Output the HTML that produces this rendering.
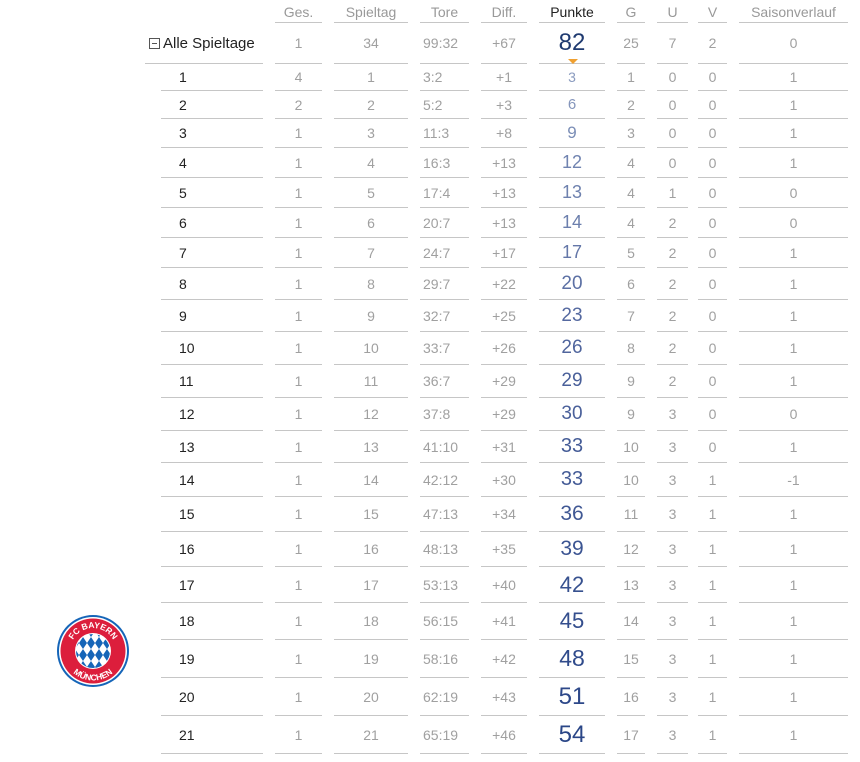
<!DOCTYPE html>
<html><head><meta charset="utf-8"><style>
body{margin:0;width:860px;height:762px;background:#fff;position:relative;overflow:hidden;font-family:"Segoe UI","Liberation Sans","DejaVu Sans",sans-serif;}
.r{position:absolute;left:0;width:860px;}
.r>div{position:absolute;top:0;bottom:0;border-bottom:1px solid #c6c6c6;display:flex;align-items:center;justify-content:center;font-size:14px;color:#a0a0a0;}
.l{left:161px;width:102px;justify-content:flex-start!important;padding-left:18px;box-sizing:border-box;color:#222!important;}
.a{left:275px;width:47px}.b{left:334px;width:74px}.t{left:420px;width:49px;justify-content:flex-start!important;padding-left:3px;box-sizing:border-box}
.d{left:481px;width:46px}.p{left:539px;width:66px;color:#4a66a0!important}.g{left:617px;width:28px}.u{left:657px;width:31px}.v{left:698px;width:29px}.s{left:739px;width:109px}
.h>div{color:#999;font-size:14px;padding-top:2px;box-sizing:border-box}
</style></head><body>
<div class="r h" style="top:0;height:23px"><div class="a">Ges.</div><div class="b">Spieltag</div><div class="t" style="justify-content:center!important;padding-left:0">Tore</div><div class="d">Diff.</div><div class="p" style="color:#222!important">Punkte</div><div class="g">G</div><div class="u">U</div><div class="v">V</div><div class="s">Saisonverlauf</div></div>
<div class="r" style="top:23px;height:41px"><div class="l" style="left:145px;width:118px;padding-left:4px;font-size:15px"><span style="display:inline-block;width:9px;height:9px;border:1px solid #555;position:relative;margin-right:3px"><span style="position:absolute;left:2px;right:2px;top:4px;height:1px;background:#555"></span></span>Alle Spieltage</div><div class="a">1</div><div class="b">34</div><div class="t">99:32</div><div class="d">+67</div><div class="p" style="font-size:24px;color:#1f3a70!important">82<span style="position:absolute;bottom:-1px;left:29px;width:0;height:0;border-left:5px solid transparent;border-right:5px solid transparent;border-top:5px solid #f0a030"></span></div><div class="g">25</div><div class="u">7</div><div class="v">2</div><div class="s">0</div></div>
<div class="r" style="top:64px;height:27px"><div class="l">1</div><div class="a">4</div><div class="b">1</div><div class="t">3:2</div><div class="d">+1</div><div class="p" style="font-size:14px;color:#8a9bbf!important">3</div><div class="g">1</div><div class="u">0</div><div class="v">0</div><div class="s">1</div></div>
<div class="r" style="top:91px;height:28px"><div class="l">2</div><div class="a">2</div><div class="b">2</div><div class="t">5:2</div><div class="d">+3</div><div class="p" style="font-size:15px;color:#8495bb!important">6</div><div class="g">2</div><div class="u">0</div><div class="v">0</div><div class="s">1</div></div>
<div class="r" style="top:119px;height:29px"><div class="l">3</div><div class="a">1</div><div class="b">3</div><div class="t">11:3</div><div class="d">+8</div><div class="p" style="font-size:17px;color:#7a8db6!important">9</div><div class="g">3</div><div class="u">0</div><div class="v">0</div><div class="s">1</div></div>
<div class="r" style="top:148px;height:30px"><div class="l">4</div><div class="a">1</div><div class="b">4</div><div class="t">16:3</div><div class="d">+13</div><div class="p" style="font-size:18px;color:#7083b0!important">12</div><div class="g">4</div><div class="u">0</div><div class="v">0</div><div class="s">1</div></div>
<div class="r" style="top:178px;height:30px"><div class="l">5</div><div class="a">1</div><div class="b">5</div><div class="t">17:4</div><div class="d">+13</div><div class="p" style="font-size:18px;color:#6e81ae!important">13</div><div class="g">4</div><div class="u">1</div><div class="v">0</div><div class="s">0</div></div>
<div class="r" style="top:208px;height:30px"><div class="l">6</div><div class="a">1</div><div class="b">6</div><div class="t">20:7</div><div class="d">+13</div><div class="p" style="font-size:18px;color:#6c7fad!important">14</div><div class="g">4</div><div class="u">2</div><div class="v">0</div><div class="s">0</div></div>
<div class="r" style="top:238px;height:30px"><div class="l">7</div><div class="a">1</div><div class="b">7</div><div class="t">24:7</div><div class="d">+17</div><div class="p" style="font-size:18px;color:#6477a8!important">17</div><div class="g">5</div><div class="u">2</div><div class="v">0</div><div class="s">1</div></div>
<div class="r" style="top:268px;height:32px"><div class="l">8</div><div class="a">1</div><div class="b">8</div><div class="t">29:7</div><div class="d">+22</div><div class="p" style="font-size:19px;color:#5c70a4!important">20</div><div class="g">6</div><div class="u">2</div><div class="v">0</div><div class="s">1</div></div>
<div class="r" style="top:300px;height:32px"><div class="l">9</div><div class="a">1</div><div class="b">9</div><div class="t">32:7</div><div class="d">+25</div><div class="p" style="font-size:19px;color:#5569a0!important">23</div><div class="g">7</div><div class="u">2</div><div class="v">0</div><div class="s">1</div></div>
<div class="r" style="top:332px;height:33px"><div class="l">10</div><div class="a">1</div><div class="b">10</div><div class="t">33:7</div><div class="d">+26</div><div class="p" style="font-size:19px;color:#50659d!important">26</div><div class="g">8</div><div class="u">2</div><div class="v">0</div><div class="s">1</div></div>
<div class="r" style="top:365px;height:33px"><div class="l">11</div><div class="a">1</div><div class="b">11</div><div class="t">36:7</div><div class="d">+29</div><div class="p" style="font-size:19px;color:#4a609a!important">29</div><div class="g">9</div><div class="u">2</div><div class="v">0</div><div class="s">1</div></div>
<div class="r" style="top:398px;height:33px"><div class="l">12</div><div class="a">1</div><div class="b">12</div><div class="t">37:8</div><div class="d">+29</div><div class="p" style="font-size:19px;color:#4a609a!important">30</div><div class="g">9</div><div class="u">3</div><div class="v">0</div><div class="s">0</div></div>
<div class="r" style="top:431px;height:32px"><div class="l">13</div><div class="a">1</div><div class="b">13</div><div class="t">41:10</div><div class="d">+31</div><div class="p" style="font-size:20px;color:#455c97!important">33</div><div class="g">10</div><div class="u">3</div><div class="v">0</div><div class="s">1</div></div>
<div class="r" style="top:463px;height:34px"><div class="l">14</div><div class="a">1</div><div class="b">14</div><div class="t">42:12</div><div class="d">+30</div><div class="p" style="font-size:20px;color:#455c97!important">33</div><div class="g">10</div><div class="u">3</div><div class="v">1</div><div class="s">-1</div></div>
<div class="r" style="top:497px;height:35px"><div class="l">15</div><div class="a">1</div><div class="b">15</div><div class="t">47:13</div><div class="d">+34</div><div class="p" style="font-size:21px;color:#405894!important">36</div><div class="g">11</div><div class="u">3</div><div class="v">1</div><div class="s">1</div></div>
<div class="r" style="top:532px;height:35px"><div class="l">16</div><div class="a">1</div><div class="b">16</div><div class="t">48:13</div><div class="d">+35</div><div class="p" style="font-size:21px;color:#3b5492!important">39</div><div class="g">12</div><div class="u">3</div><div class="v">1</div><div class="s">1</div></div>
<div class="r" style="top:567px;height:36px"><div class="l">17</div><div class="a">1</div><div class="b">17</div><div class="t">53:13</div><div class="d">+40</div><div class="p" style="font-size:22px;color:#37518f!important">42</div><div class="g">13</div><div class="u">3</div><div class="v">1</div><div class="s">1</div></div>
<div class="r" style="top:603px;height:37px"><div class="l">18</div><div class="a">1</div><div class="b">18</div><div class="t">56:15</div><div class="d">+41</div><div class="p" style="font-size:22px;color:#344e8d!important">45</div><div class="g">14</div><div class="u">3</div><div class="v">1</div><div class="s">1</div></div>
<div class="r" style="top:640px;height:38px"><div class="l">19</div><div class="a">1</div><div class="b">19</div><div class="t">58:16</div><div class="d">+42</div><div class="p" style="font-size:23px;color:#304b8b!important">48</div><div class="g">15</div><div class="u">3</div><div class="v">1</div><div class="s">1</div></div>
<div class="r" style="top:678px;height:38px"><div class="l">20</div><div class="a">1</div><div class="b">20</div><div class="t">62:19</div><div class="d">+43</div><div class="p" style="font-size:24px;color:#2d4889!important">51</div><div class="g">16</div><div class="u">3</div><div class="v">1</div><div class="s">1</div></div>
<div class="r" style="top:716px;height:38px"><div class="l">21</div><div class="a">1</div><div class="b">21</div><div class="t">65:19</div><div class="d">+46</div><div class="p" style="font-size:24px;color:#2a4687!important">54</div><div class="g">17</div><div class="u">3</div><div class="v">1</div><div class="s">1</div></div>
<svg style="position:absolute;left:55px;top:613px" width="76" height="76" viewBox="0 0 76 76">
<defs><pattern id="dm" width="8" height="12" patternUnits="userSpaceOnUse"><rect width="8" height="12" fill="#fff"/><path d="M4 0 L8 6 L4 12 L0 6Z" fill="#1565b8"/></pattern>
<path id="tp" d="M15 38 A23 23 0 0 1 61 38"/><path id="bp" d="M8.5 38 A29.5 29.5 0 0 0 67.5 38"/></defs>
<circle cx="38" cy="38" r="36" fill="#1565b8"/><circle cx="38" cy="38" r="34" fill="#fff"/><circle cx="38" cy="38" r="32.5" fill="#dc1e3c"/>
<circle cx="38" cy="38" r="18" fill="#fff"/><circle cx="38" cy="38" r="17" fill="url(#dm)"/>
<text font-family="Liberation Sans,sans-serif" font-weight="bold" font-size="8.5" fill="#fff"><textPath href="#tp" startOffset="50%" text-anchor="middle">FC BAYERN</textPath></text>
<text font-family="Liberation Sans,sans-serif" font-weight="bold" font-size="8.5" fill="#fff"><textPath href="#bp" startOffset="50%" text-anchor="middle">MÜNCHEN</textPath></text>
</svg>
</body></html>
